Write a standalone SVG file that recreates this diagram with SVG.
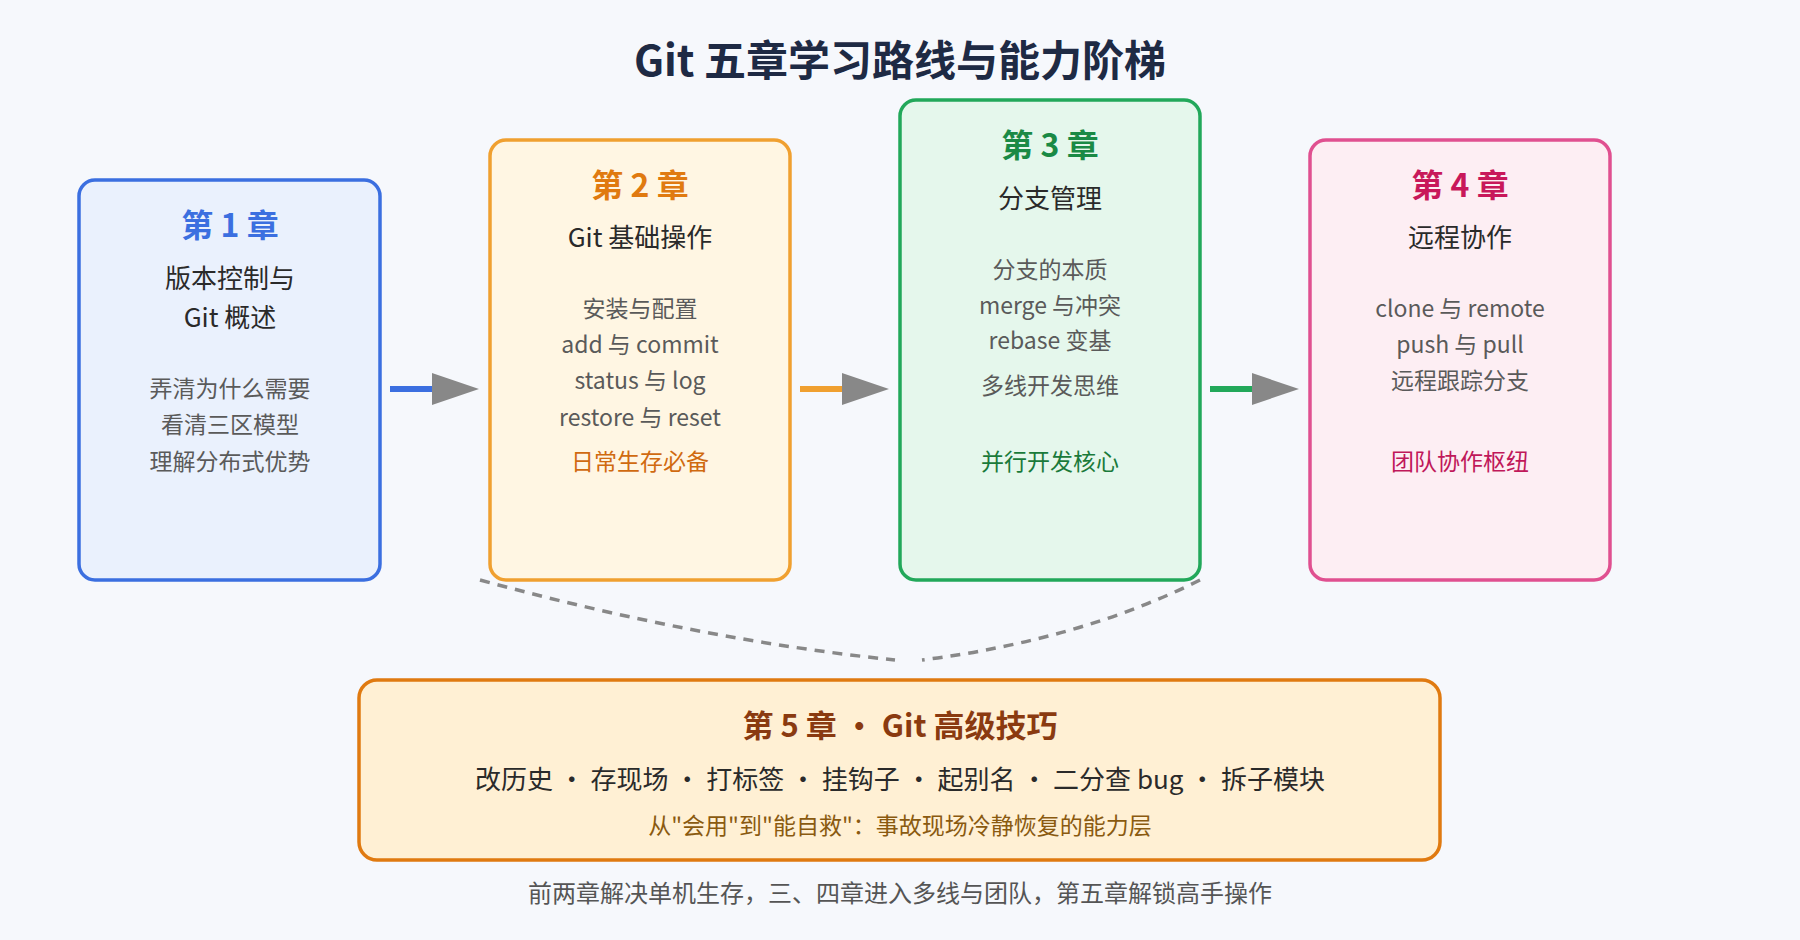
<svg xmlns="http://www.w3.org/2000/svg" width="1800" height="940" viewBox="0 0 1800 940">
<style>
text{font-family:"Noto Sans CJK SC","Noto Sans",sans-serif;text-anchor:middle;dominant-baseline:middle}
.t{font-size:32px;font-weight:bold}
.s{font-size:26px;fill:#2a2a2a}
.i{font-size:23px;fill:#5a5a5a}
.h{font-size:23px}
.box{stroke-width:3.5}
</style>
<defs><marker id="ah" markerWidth="10" markerHeight="10" refX="9" refY="5" orient="auto" markerUnits="userSpaceOnUse" viewBox="0 0 10 10"><path d="M0,0L10,5L0,10z" fill="#888"/></marker></defs>
<rect width="1800" height="940" fill="#f6f8fc"/>
<text x="900" y="65" style="font-size:42px;font-weight:bold;fill:#1e2a44">Git 五章学习路线与能力阶梯</text>
<g id="connectors">
<line x1="390" y1="389" x2="435" y2="389" stroke="#3b6fe0" stroke-width="6"/>
<polygon points="432,373 479,389 432,405" fill="#888"/>
<line x1="800" y1="389" x2="845" y2="389" stroke="#f0a030" stroke-width="6"/>
<polygon points="842,373 889,389 842,405" fill="#888"/>
<line x1="1210" y1="389" x2="1255" y2="389" stroke="#22a85a" stroke-width="6"/>
<polygon points="1252,373 1299,389 1252,405" fill="#888"/>
<path d="M480,580 Q700,640 895,660" fill="none" stroke="#888" stroke-width="3.5" stroke-dasharray="10,8"/>
<path d="M1200,580 Q1080,640 922,660" fill="none" stroke="#888" stroke-width="3.5" stroke-dasharray="10,8"/>
</g>
<g id="ch1">
<rect class="box" x="79" y="180" width="301" height="400" rx="16" fill="#eaf1fd" stroke="#3b6fe0"/>
<text class="t" x="230" y="228" fill="#3b6fe0">第 1 章</text>
<text class="s" x="230" y="281">版本控制与</text>
<text class="s" x="230" y="320">Git 概述</text>
<text class="i" x="230" y="391">弄清为什么需要</text>
<text class="i" x="230" y="427">看清三区模型</text>
<text class="i" x="230" y="464">理解分布式优势</text>
</g>
<g id="ch2">
<rect class="box" x="490" y="140" width="300" height="440" rx="16" fill="#fff6e3" stroke="#f0a030"/>
<text class="t" x="640" y="188" fill="#e07a10">第 2 章</text>
<text class="s" x="640" y="240">Git 基础操作</text>
<text class="i" x="640" y="311">安装与配置</text>
<text class="i" x="640" y="347">add 与 commit</text>
<text class="i" x="640" y="383">status 与 log</text>
<text class="i" x="640" y="420">restore 与 reset</text>
<text class="h" x="640" y="464" fill="#d06a10">日常生存必备</text>
</g>
<g id="ch3">
<rect class="box" x="900" y="100" width="300" height="480" rx="16" fill="#e5f7ec" stroke="#22a85a"/>
<text class="t" x="1050" y="148" fill="#1a8a45">第 3 章</text>
<text class="s" x="1050" y="201">分支管理</text>
<text class="i" x="1050" y="272">分支的本质</text>
<text class="i" x="1050" y="308">merge 与冲突</text>
<text class="i" x="1050" y="343">rebase 变基</text>
<text class="i" x="1050" y="388">多线开发思维</text>
<text class="h" x="1050" y="464" fill="#1a7a3a">并行开发核心</text>
</g>
<g id="ch4">
<rect class="box" x="1310" y="140" width="300" height="440" rx="16" fill="#fdeef3" stroke="#e05090"/>
<text class="t" x="1460" y="188" fill="#c8185a">第 4 章</text>
<text class="s" x="1460" y="240">远程协作</text>
<text class="i" x="1460" y="311">clone 与 remote</text>
<text class="i" x="1460" y="347">push 与 pull</text>
<text class="i" x="1460" y="383">远程跟踪分支</text>
<text class="h" x="1460" y="464" fill="#c0185a">团队协作枢纽</text>
</g>
<g id="ch5">
<rect class="box" x="359" y="680" width="1081" height="180" rx="18" fill="#fff0d4" stroke="#e07a10"/>
<text x="900" y="729" style="font-size:31px;font-weight:bold;fill:#8a3a10">第 5 章 • Git 高级技巧</text>
<text x="900" y="782" style="font-size:26px;fill:#2a2a2a">改历史 · 存现场 · 打标签 · 挂钩子 · 起别名 · 二分查 bug · 拆子模块</text>
<text x="900" y="828" style="font-size:23px;fill:#8a5a10">从"会用"到"能自救"：事故现场冷静恢复的能力层</text>
</g>
<text x="900" y="895" style="font-size:24px;fill:#555">前两章解决单机生存，三、四章进入多线与团队，第五章解锁高手操作</text>
</svg>
